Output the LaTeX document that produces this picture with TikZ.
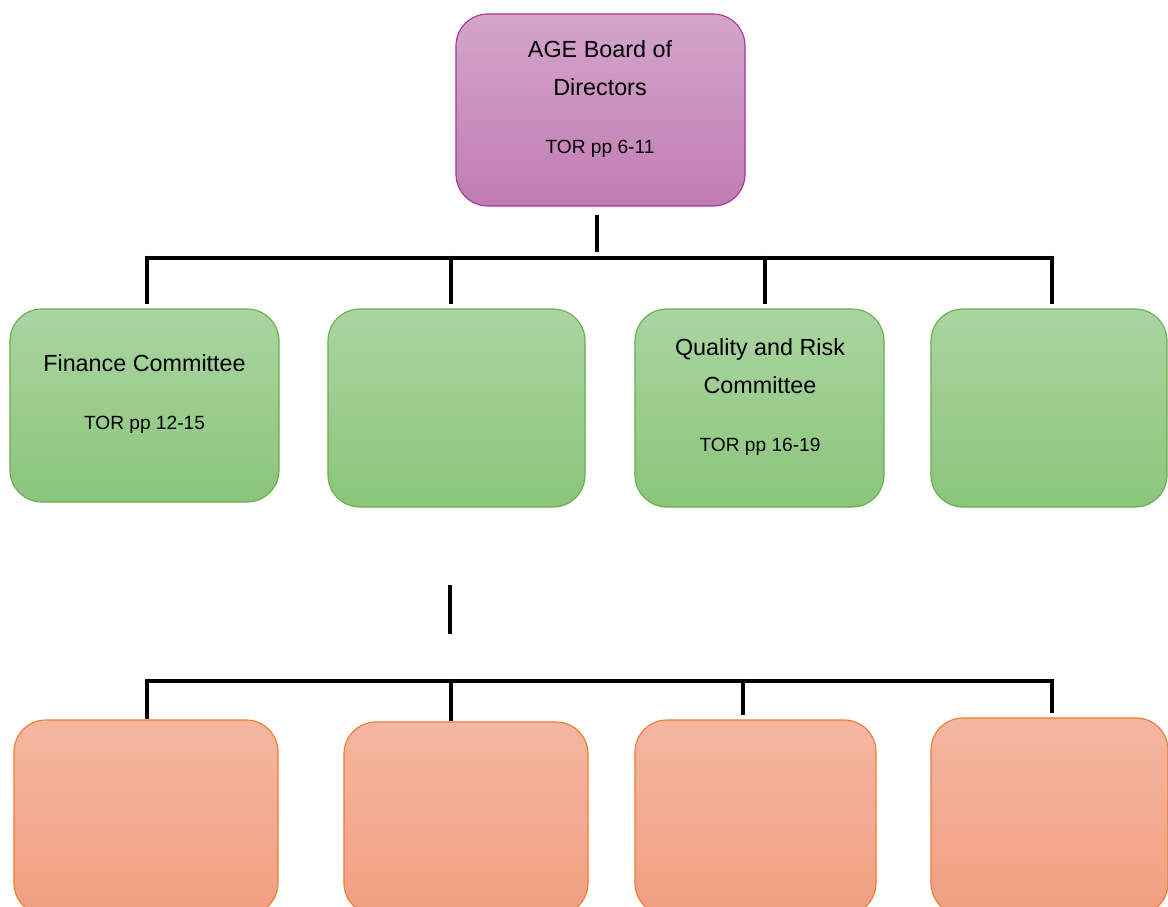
\documentclass[tikz,border=0pt]{standalone}
\usepackage{fontspec}
\setmainfont{Liberation Sans}
\usepackage{tikz}
\usetikzlibrary{positioning,calc}
\definecolor{cmorado}{HTML}{A5349C}
\definecolor{cmoradoa}{HTML}{D4A5CB}
\definecolor{cmoradob}{HTML}{C07CB2}
\definecolor{cverde}{HTML}{6AAE4B}
\definecolor{cverdea}{HTML}{AAD5A1}
\definecolor{cverdeb}{HTML}{8BC57B}
\definecolor{cnaranja}{HTML}{ED7D31}
\definecolor{cnaranjaa}{HTML}{F4B7A2}
\definecolor{cnaranjab}{HTML}{F29E80}
\tikzset{
  caja/.style={rectangle, rounded corners=0.8cm, inner sep=0pt, line width=0.8pt},
  cajam/.style={caja, draw=cmorado, top color=cmoradoa, bottom color=cmoradob},
  cajav/.style={caja, draw=cverde, top color=cverdea, bottom color=cverdeb},
  cajan/.style={caja, draw=cnaranja, top color=cnaranjaa, bottom color=cnaranjab},
  linea/.style={line width=3.4pt, draw=black},
  etq/.style={align=center, font=\fontsize{16.6}{27}\selectfont, text=black},
}
\newcommand{\tor}[1]{{\fontsize{13.6}{16}\selectfont TOR pp #1}}

\begin{document}
\begin{tikzpicture}[x=0.025cm, y=-0.025cm]
  \useasboundingbox (0,0) rectangle (1168,906);
  \clip (0,0) rectangle (1168,906);
  % board
  \node[cajam, minimum width=7.225cm, minimum height=4.8cm] (board) at (600.5,110) {};
  \node[etq] (boardt) at (600,99) {AGE Board of\\Directors\\[14pt]\tor{6-11}};
  % committees
  \node[cajav, minimum width=6.725cm, minimum height=4.825cm] (g1) at (144.5,405.5) {};
  \node[cajav, minimum width=6.425cm, minimum height=4.95cm] (g2) at (456.5,408) {};
  \node[cajav, minimum width=6.225cm, minimum height=4.95cm] (g3) at (759.5,408) {};
  \node[cajav, minimum width=5.9cm, minimum height=4.95cm] (g4) at (1049,408) {};
  \node[etq] (g1t) at (144.5,394) {Finance Committee\\[14pt]\tor{12-15}};
  \node[etq] (g3t) at (760,397) {Quality and Risk\\Committee\\[14pt]\tor{16-19}};
  % lower row
  \node[cajan, minimum width=6.6cm, minimum height=4.875cm] (o1) at (146,817.5) {};
  \node[cajan, minimum width=6.1cm, minimum height=4.825cm] (o2) at (466,818.5) {};
  \node[cajan, minimum width=6.025cm, minimum height=4.875cm] (o3) at (755.5,817.5) {};
  \node[cajan, minimum width=5.925cm, minimum height=4.925cm] (o4) at (1049.5,816.5) {};
  % first bus
  \coordinate (d1) at (147,258);
  \coordinate (d2) at (451,258);
  \coordinate (d3) at (765,258);
  \coordinate (d4) at (1052,258);
  \coordinate (b0) at (597,258);
  \draw[linea, shorten <=0.2cm, shorten >=0.15cm] (b0 |- board.south) -- (b0);
  \draw[linea] (d1) -- (d4);
  \foreach \d/\g in {d1/g1, d2/g2, d3/g3, d4/g4}
    \draw[linea, shorten >=0.1cm] ([yshift=1.7pt]\d) -- (\d |- \g.north);
  % second bus
  \coordinate (s1) at (450,585);
  \coordinate (s2) at (450,634);
  \draw[linea] (s1) -- (s2);
  \coordinate (e1) at (147,681);
  \coordinate (e2) at (451,681);
  \coordinate (e3) at (743,681);
  \coordinate (e4) at (1052,681);
  \draw[linea] (e1) -- (e4);
  \draw[linea] ([yshift=1.7pt]e1) -- (e1 |- o1.north);
  \draw[linea] ([yshift=1.7pt]e2) -- (e2 |- o2.north);
  \draw[linea, shorten >=0.1cm] ([yshift=1.7pt]e3) -- (e3 |- o3.north);
  \draw[linea, shorten >=0.1cm] ([yshift=1.7pt]e4) -- (e4 |- o4.north);
\end{tikzpicture}
\end{document}
